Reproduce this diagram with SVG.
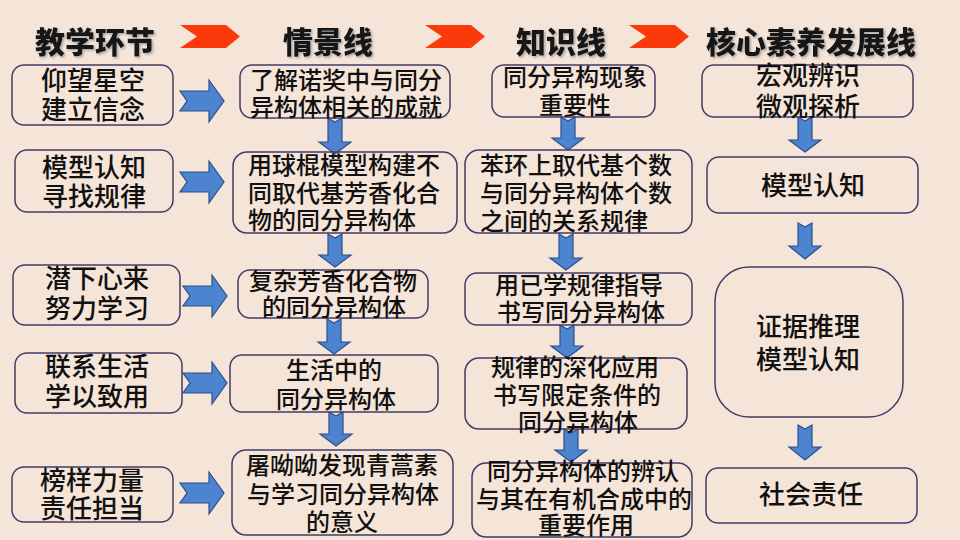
<svg xmlns="http://www.w3.org/2000/svg" width="960" height="540" viewBox="0 0 960 540">
<style>
.bg{fill:#f5e4d8}
.box{fill:none;stroke:#463a66;stroke-width:1.5}
.arr{fill:#4d84d0;stroke:#2c4f8c;stroke-width:1.2;stroke-linejoin:miter}
.chev{fill:#fa3a0a}
.hd{font-family:"Noto Sans CJK SC","Noto Sans",sans-serif;font-weight:900;font-size:30px;fill:#151515;text-anchor:middle}
.t{font-family:"Noto Sans CJK SC","Noto Sans",sans-serif;font-weight:500;font-size:24px;fill:#111;text-anchor:middle}
.tl{text-anchor:start}
.big{font-size:26px}
</style>
<defs>
<filter id="sh" x="-10%" y="-20%" width="130%" height="150%">
<feDropShadow dx="1.5" dy="1.5" stdDeviation="1" flood-color="#888" flood-opacity="0.7"/>
</filter>
<polygon id="rarr" class="arr" points="0,-10 29,-10 29,-21 44,0 29,21 29,10 0,10 7,0"/>
<polygon id="chevron" class="chev" points="0,0 46,0 60,11.5 46,23 0,23 17,11.5"/>
</defs>
<rect class="bg" x="0" y="0" width="960" height="540"/>

<g id="headers" filter="url(#sh)">
<text class="hd" x="95" y="53">教学环节</text>
<text class="hd" x="328" y="53">情景线</text>
<text class="hd" x="561" y="53">知识线</text>
<text class="hd" x="811" y="53">核心素养发展线</text>
</g>
<g id="chevrons">
<use href="#chevron" x="180" y="25"/>
<use href="#chevron" x="425" y="25"/>
<use href="#chevron" x="629" y="25"/>
</g>

<g id="connectors">
<use href="#rarr" x="180" y="101"/>
<use href="#rarr" x="180" y="182"/>
<use href="#rarr" x="183" y="296"/>
<use href="#rarr" x="183" y="383"/>
<use href="#rarr" x="180" y="493"/>
<polygon class="arr" points="328,118 335,122 342,118 342,142 351,142 335,154 319,142 328,142"/>
<polygon class="arr" points="328,234 335,238 342,234 342,255 351,255 335,267 319,255 328,255"/>
<polygon class="arr" points="327,319 334,323 341,319 341,342 350,342 334,354 318,342 327,342"/>
<polygon class="arr" points="329,412 336,416 343,412 343,434 352,434 336,446 320,434 329,434"/>
<polygon class="arr" points="561,117 568,121 575,117 575,138 584,138 568,150 552,138 561,138"/>
<polygon class="arr" points="559,234 566,238 573,234 573,258 582,258 566,270 550,258 559,258"/>
<polygon class="arr" points="560,325 567,329 574,325 574,346 583,346 567,358 551,346 560,346"/>
<polygon class="arr" points="564,429 571,433 578,429 578,450 587,450 571,462 555,450 564,450"/>
<polygon class="arr" points="798,117 805,121 812,117 812,140 821,140 805,152 789,140 798,140"/>
<polygon class="arr" points="798,223 805,227 812,223 812,246 821,246 805,259 789,246 798,246"/>
<polygon class="arr" points="798,425 805,429 812,425 812,447 821,447 805,460 789,447 798,447"/>
</g>

<g id="n-l1"><rect class="box" x="12" y="65" width="161" height="60" rx="12"/>
<text class="t big" x="93" y="90">仰望星空</text><text class="t big" x="93" y="119">建立信念</text></g>
<g id="n-l2"><rect class="box" x="15" y="150" width="158" height="62" rx="12"/>
<text class="t big" x="94" y="177">模型认知</text><text class="t big" x="94" y="206">寻找规律</text></g>
<g id="n-l3"><rect class="box" x="13" y="265" width="167" height="60" rx="12"/>
<text class="t big" x="97" y="288">潜下心来</text><text class="t big" x="97" y="318">努力学习</text></g>
<g id="n-l4"><rect class="box" x="15" y="353" width="167" height="60" rx="12"/>
<text class="t big" x="97" y="376">联系生活</text><text class="t big" x="97" y="406">学以致用</text></g>
<g id="n-l5"><rect class="box" x="12" y="467" width="161" height="55" rx="12"/>
<text class="t big" x="92" y="490">榜样力量</text><text class="t big" x="92" y="518">责任担当</text></g>

<g id="n-s1"><rect class="box" x="240" y="65" width="210" height="53" rx="12"/>
<text class="t" x="346" y="89">了解诺奖中与同分</text><text class="t" x="346" y="116">异构体相关的成就</text></g>
<g id="n-s2"><rect class="box" x="233" y="152" width="224" height="81" rx="14"/>
<text class="t tl" x="248" y="174">用球棍模型构建不</text><text class="t tl" x="248" y="202">同取代基芳香化合</text><text class="t tl" x="248" y="229">物的同分异构体</text></g>
<g id="n-s3"><rect class="box" x="238" y="270" width="190" height="48" rx="12"/>
<text class="t" x="333" y="290">复杂芳香化合物</text><text class="t" x="334" y="316">的同分异构体</text></g>
<g id="n-s4"><rect class="box" x="230" y="355" width="208" height="57" rx="12"/>
<text class="t" x="334" y="379">生活中的</text><text class="t" x="336" y="408">同分异构体</text></g>
<g id="n-s5"><rect class="box" x="232" y="450" width="221" height="85" rx="14"/>
<text class="t" x="342" y="474">屠呦呦发现青蒿素</text><text class="t" x="343" y="503">与学习同分异构体</text><text class="t" x="342" y="531">的意义</text></g>

<g id="n-k1"><rect class="box" x="492" y="65" width="163" height="52" rx="12"/>
<text class="t" x="575" y="86">同分异构现象</text><text class="t" x="575" y="114">重要性</text></g>
<g id="n-k2"><rect class="box" x="465" y="150" width="227" height="83" rx="14"/>
<text class="t tl" x="480" y="174">苯环上取代基个数</text><text class="t tl" x="480" y="202">与同分异构体个数</text><text class="t tl" x="480" y="230">之间的关系规律</text></g>
<g id="n-k3"><rect class="box" x="465" y="273" width="227" height="52" rx="12"/>
<text class="t" x="579" y="294">用已学规律指导</text><text class="t" x="581" y="321">书写同分异构体</text></g>
<g id="n-k4"><rect class="box" x="465" y="358" width="222" height="71" rx="14"/>
<text class="t" x="575" y="376">规律的深化应用</text><text class="t" x="577" y="404">书写限定条件的</text><text class="t" x="578" y="431">同分异构体</text></g>
<g id="n-k5"><rect class="box" x="472" y="463" width="220" height="74" rx="14"/>
<text class="t" x="583" y="480">同分异构体的辨认</text><text class="t" x="584" y="508">与其在有机合成中的</text><text class="t" x="586" y="534">重要作用</text></g>

<g id="n-c1"><rect class="box" x="702" y="65" width="211" height="52" rx="12"/>
<text class="t big" x="808" y="85">宏观辨识</text><text class="t big" x="808" y="116">微观探析</text></g>
<g id="n-c2"><rect class="box" x="707" y="157" width="211" height="56" rx="12"/>
<text class="t big" x="813" y="195">模型认知</text></g>
<g id="n-c3"><rect class="box" x="715" y="267" width="188" height="150" rx="34"/>
<text class="t big" x="808" y="336">证据推理</text><text class="t big" x="808" y="369">模型认知</text></g>
<g id="n-c4"><rect class="box" x="706" y="468" width="211" height="55" rx="12"/>
<text class="t big" x="811" y="504">社会责任</text></g>
</svg>
